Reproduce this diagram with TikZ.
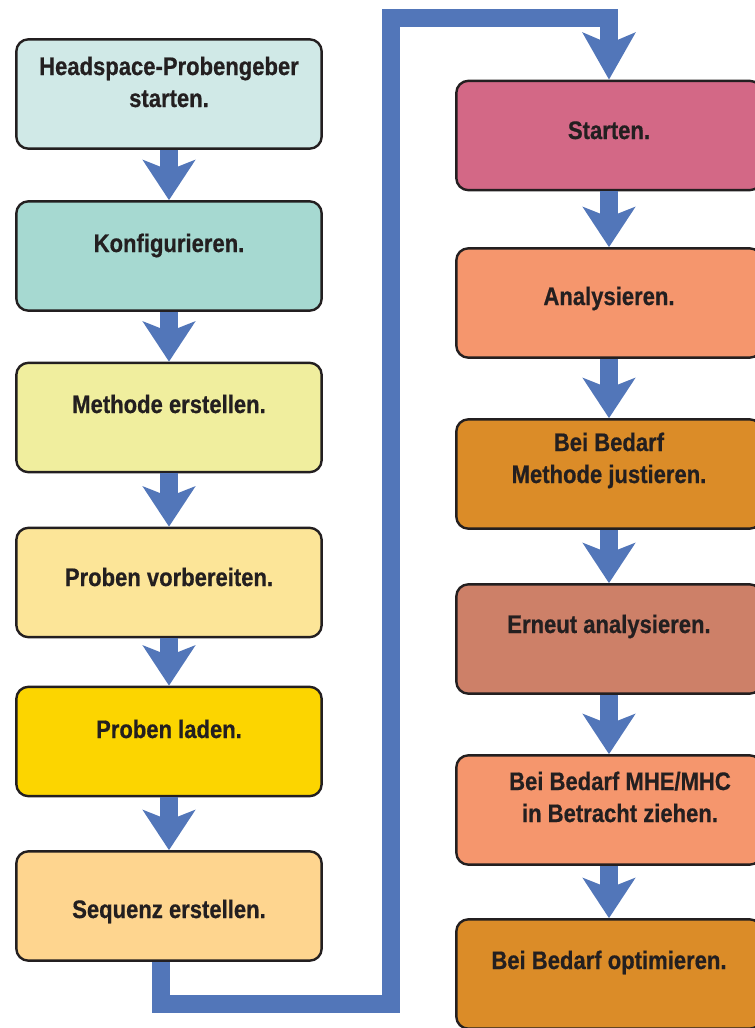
\documentclass[tikz,border=0pt]{standalone}
\usepackage{fontspec}
\newfontfamily\boxfont{Liberation Sans}[FakeStretch=0.87,FakeBold=0.6]
\usepackage{tikz}
\usetikzlibrary{arrows.meta}
\definecolor{boxline}{HTML}{231F20}
\definecolor{flowblue}{HTML}{5276B9}
\definecolor{cmint}{HTML}{D0E9E7}
\definecolor{cteal}{HTML}{A6D9D1}
\definecolor{clime}{HTML}{F0EE9E}
\definecolor{cpale}{HTML}{FCE598}
\definecolor{cgold}{HTML}{FCD500}
\definecolor{capri}{HTML}{FED58F}
\definecolor{crose}{HTML}{D36886}
\definecolor{csalm}{HTML}{F5966D}
\definecolor{corng}{HTML}{DB8C28}
\definecolor{cbrwn}{HTML}{CD8068}
\tikzstyle{bx}=[draw=boxline, line width=1.8pt, rectangle, rounded corners=9pt, minimum width=229pt, minimum height=82pt, inner sep=0pt]
\tikzstyle{tx}=[anchor=base, align=center, text=boxline, inner sep=0pt, font=\boxfont\bfseries\fontsize{19}{24}\selectfont]
\tikzstyle{fl}=[draw=flowblue, line width=14pt, line join=miter, -{Stealth[length=30pt,width=39pt,inset=7.5pt]}]
\begin{document}
\begin{tikzpicture}[x=0.75pt, y=-0.75pt]
      \useasboundingbox (0,0) rectangle (755,1028);
      \clip (0,0) rectangle (755,1028);
%      \draw [help lines, step=50] (0,0) grid (755,1028);
      % left column
      \node [bx, fill=cmint] (l1) at (169,94) {};
      \node [bx, fill=cteal] (l2) at (169,256) {};
      \node [bx, fill=clime] (l3) at (169,417.5) {};
      \node [bx, fill=cpale] (l4) at (169,582.5) {};
      \node [bx, fill=cgold] (l5) at (169,741.5) {};
      \node [bx, fill=capri] (l6) at (169,906) {};
      % right column
      \node [bx, fill=crose] (r1) at (609,135.5) {};
      \node [bx, fill=csalm] (r2) at (609,303) {};
      \node [bx, fill=corng] (r3) at (609,474) {};
      \node [bx, fill=cbrwn] (r4) at (609,639) {};
      \node [bx, fill=csalm] (r5) at (609,810) {};
      \node [bx, fill=corng] (r6) at (609,974) {};
      % texts (base = last line)
      \node [tx] (t1) at (169,107) {Headspace-Probengeber\\starten.};
      \node [tx] (t2) at (169,252) {Konfigurieren.};
      \node [tx] (t3) at (169,413) {Methode erstellen.};
      \node [tx] (t4) at (169,586) {Proben vorbereiten.};
      \node [tx] (t5) at (169,738) {Proben laden.};
      \node [tx] (t6) at (169,918) {Sequenz erstellen.};
      \node [tx] (u1) at (609,139) {Starten.};
      \node [tx] (u2) at (609,305) {Analysieren.};
      \node [tx] (u3) at (609,483) {Bei Bedarf\\Methode justieren.};
      \node [tx] (u4) at (609,633) {Erneut analysieren.};
      \node [tx] (u5) at (620,822) {Bei Bedarf MHE/MHC\\in Betracht ziehen.};
      \node [tx] (u6) at (609,969) {Bei Bedarf optimieren.};
      % connector corners
      \coordinate (c1) at (161,1004);
      \coordinate (c2) at (391,1004);
      \coordinate (c3) at (391,18);
      \coordinate (c4) at (609,18);
      \path [fl]
      (l1) -- (l2);
      \path [fl] (l2) -- (l3);
      \path [fl] (l3) -- (l4);
      \path [fl] (l4) -- (l5);
      \path [fl] (l5) -- (l6);
      \path [fl] (r1) -- (r2);
      \path [fl] (r2) -- (r3);
      \path [fl] (r3) -- (r4);
      \path [fl] (r4) -- (r5);
      \path [fl] (r5) -- (r6);
      \path [fl, -{Stealth[length=35pt,width=39pt,inset=8pt]}]
      (l6.south -| c1) -- (c1) -- (c2) -- (c3) -- (c4) -- (r1);
\end{tikzpicture}
\end{document}
